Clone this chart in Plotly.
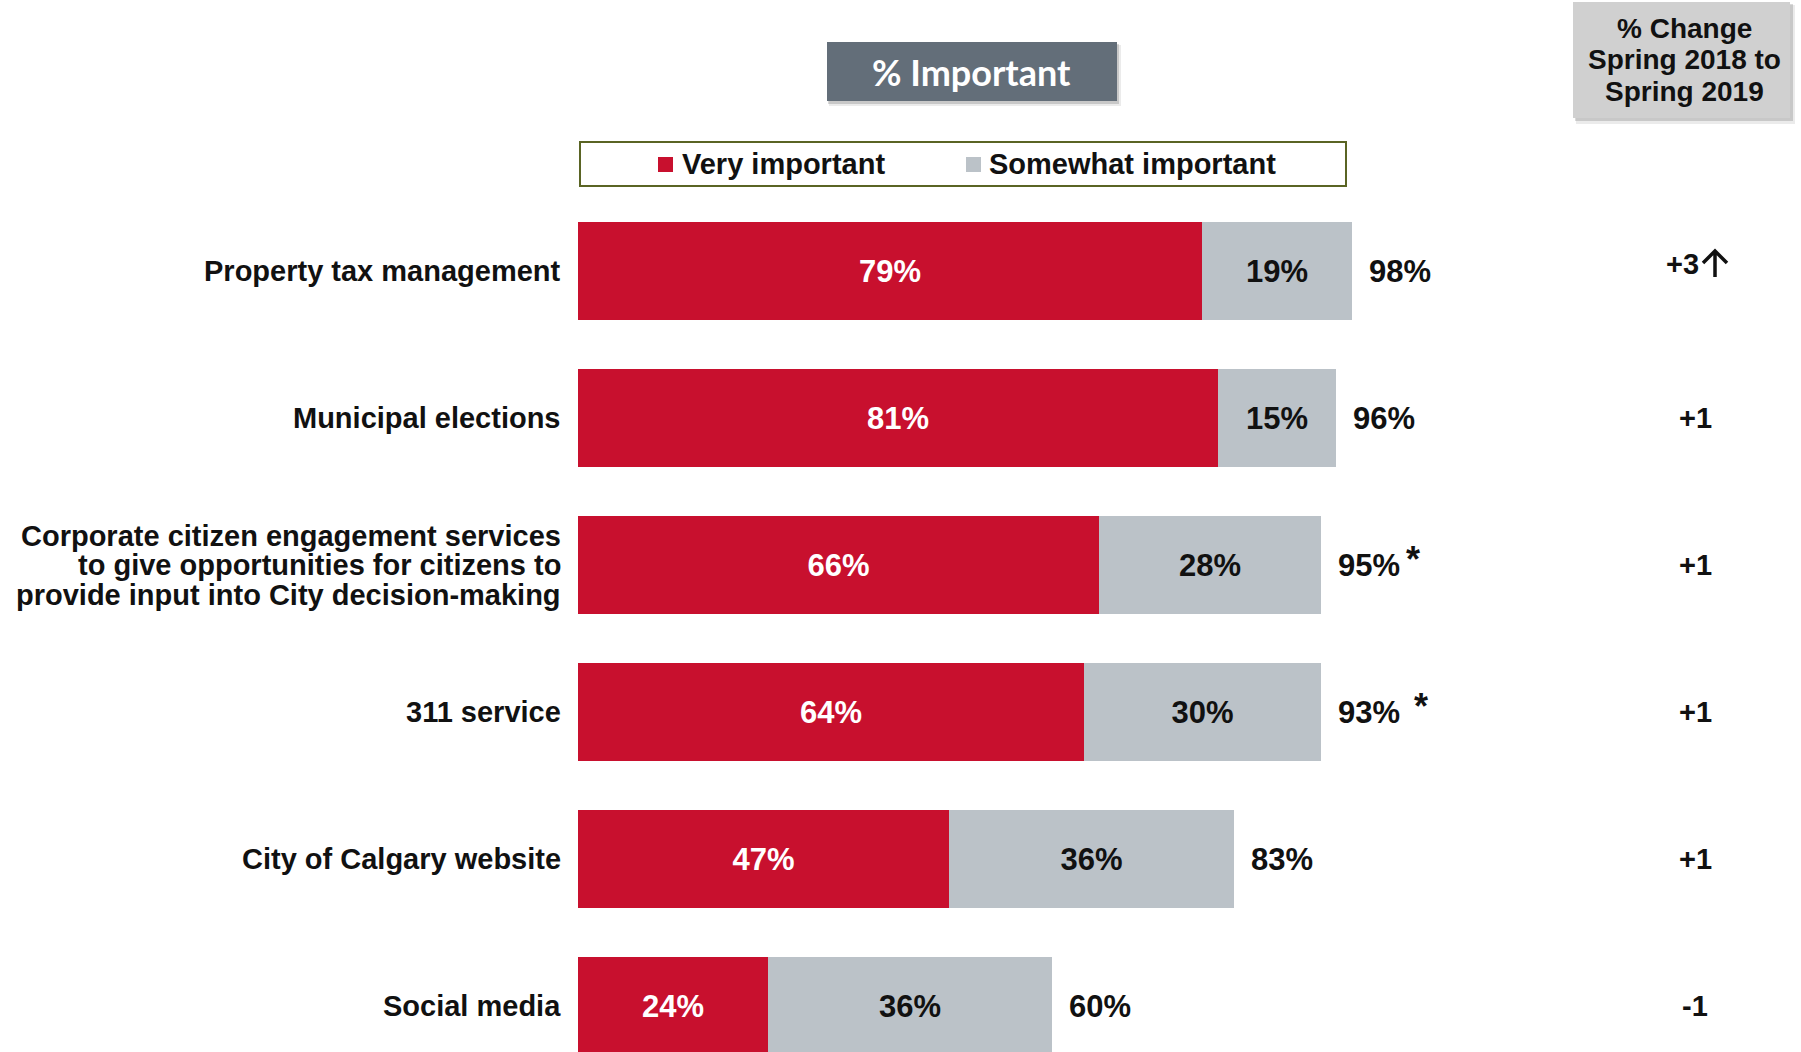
import plotly.graph_objects as go

categories = [
    "Property tax management",
    "Municipal elections",
    "Corporate citizen engagement services<br>to give opportunities for citizens to<br>provide input into City decision-making",
    "311 service",
    "City of Calgary website",
    "Social media",
]
very_important = [79, 81, 66, 64, 47, 24]
somewhat_important = [19, 15, 28, 30, 36, 36]
total_important = [98, 96, 95, 93, 83, 60]
significant = [False, False, True, True, False, False]
change = ["+3", "+1", "+1", "+1", "+1", "-1"]
change_up = [True, False, False, False, False, False]

W, H = 1801, 1052
FONT = "Liberation Sans, Arial, sans-serif"
RED = "#C8102E"
GREY = "#BBC2C8"
INK = "#111111"

def px(x):
    return x / W

def py(y):
    return 1 - y / H

rows = list(range(len(categories)))

fig = go.Figure()
fig.add_trace(go.Bar(
    y=rows, x=very_important, orientation="h", name="Very important",
    marker=dict(color=RED, line=dict(width=0)), width=0.667,
    text=[f"<b>{v}%</b>" for v in very_important],
    textposition="inside", insidetextanchor="middle", textangle=0,
    textfont=dict(family=FONT, size=31, color="white"),
    hoverinfo="skip",
))
fig.add_trace(go.Bar(
    y=rows, x=somewhat_important, orientation="h", name="Somewhat important",
    marker=dict(color=GREY, line=dict(width=0)), width=0.667,
    text=[f"<b>{v}%</b>" for v in somewhat_important],
    textposition="inside", insidetextanchor="middle", textangle=0,
    textfont=dict(family=FONT, size=31, color=INK),
    hoverinfo="skip",
))

x_scale = 7.9
x0_px = 578
y_step = 147
y0_px = 271

LINE = 29.5  # line spacing for multi-line labels (px)
ann = []
shapes = []
for i, cat in enumerate(categories):
    lines = cat.split("<br>")
    n = len(lines)
    for k, ln in enumerate(lines):
        ann.append(dict(x=0, y=i, xref="x", yref="y", text=f"<b>{ln}</b>",
                        xanchor="right", yanchor="middle", xshift=-15,
                        yshift=((n - 1) / 2 - k) * LINE,
                        showarrow=False, font=dict(family=FONT, size=29, color=INK)))
    end = very_important[i] + somewhat_important[i]
    ann.append(dict(x=end, y=i, xref="x", yref="y", text=f"<b>{total_important[i]}%</b>",
                    xanchor="left", yanchor="middle", xshift=15,
                    showarrow=False, font=dict(family=FONT, size=31, color=INK)))
    if significant[i]:
        ann.append(dict(x=end, y=i, xref="x", yref="y", text="<b>*</b>",
                        xanchor="left", yanchor="middle", xshift=15 + 68 + (0 if i == 2 else 8),
                        yshift=6, showarrow=False,
                        font=dict(family=FONT, size=36, color=INK)))
    if change_up[i]:
        ann.append(dict(x=px(1701), y=i, xref="paper", yref="y", text=f"<b>{change[i]}</b>",
                        xanchor="right", yanchor="middle", yshift=7,
                        showarrow=False, font=dict(family=FONT, size=29, color=INK)))
        # up-arrow glyph drawn as a stroked path next to the value
        cy = y0_px + y_step * i - 7
        ax, top, arm, bot = 1715, cy - 13, 12, cy + 13
        path = (f"M {px(ax - arm)},{py(top + arm)} L {px(ax)},{py(top)} L {px(ax + arm)},{py(top + arm)} "
                f"M {px(ax)},{py(top)} L {px(ax)},{py(bot)}")
        shapes.append(dict(type="path", xref="paper", yref="paper", path=path,
                           line=dict(color=INK, width=3.5), layer="above"))
    else:
        ann.append(dict(x=px(1695), y=i, xref="paper", yref="y", text=f"<b>{change[i]}</b>",
                        xanchor="center", yanchor="middle",
                        showarrow=False, font=dict(family=FONT, size=29, color=INK)))

# Title box text
ann.append(dict(x=px(972), y=py(72), xref="paper", yref="paper", text="<b>% Important</b>",
                xanchor="center", yanchor="middle", showarrow=False,
                font=dict(family="Lato, Open Sans, sans-serif", size=36, color="white")))
# Right header text
for k, ln in enumerate(["% Change", "Spring 2018 to", "Spring 2019"]):
    ann.append(dict(x=px(1684), y=py(28 + 31.6 * k), xref="paper", yref="paper",
                    text=f"<b>{ln}</b>", xanchor="center", yanchor="middle", showarrow=False,
                    font=dict(family=FONT, size=28, color=INK)))
# Legend text
ann.append(dict(x=px(680), y=py(164), xref="paper", yref="paper", text="<b>Very important</b>",
                xanchor="left", yanchor="middle", showarrow=False,
                font=dict(family=FONT, size=29, color=INK)))
ann.append(dict(x=px(987), y=py(164), xref="paper", yref="paper", text="<b>Somewhat important</b>",
                xanchor="left", yanchor="middle", showarrow=False,
                font=dict(family=FONT, size=29, color=INK)))

def rect(x0, y0, x1, y1, fill, line=None, lw=0):
    return dict(type="rect", xref="paper", yref="paper",
                x0=px(x0), x1=px(x1), y0=py(y1), y1=py(y0),
                fillcolor=fill, line=dict(color=line or fill, width=lw), layer="above")

shapes.append(rect(829, 45, 1121, 106, "rgba(0,0,0,0.08)"))
shapes.append(rect(828, 44, 1119, 104, "rgba(0,0,0,0.15)"))
shapes.append(rect(827, 42, 1117, 101, "#636E79"))
shapes.append(rect(1576, 5, 1795, 124, "rgba(0,0,0,0.08)"))
shapes.append(rect(1575, 4, 1793, 121, "rgba(0,0,0,0.15)"))
shapes.append(rect(1573, 2, 1790, 118, "#D0D0D0"))
shapes.append(rect(580, 142, 1346, 186, "rgba(0,0,0,0)", "#5A6424", 2))
shapes.append(rect(658, 157, 673, 172, RED))
shapes.append(rect(966, 157, 981, 172, GREY))

fig.update_layout(
    width=W, height=H, margin=dict(l=0, r=0, t=0, b=0),
    paper_bgcolor="white", plot_bgcolor="white",
    barmode="stack", showlegend=False, bargap=0,
    xaxis=dict(range=[-x0_px / x_scale, (W - x0_px) / x_scale], visible=False, fixedrange=True),
    yaxis=dict(range=[(H - y0_px) / y_step, -y0_px / y_step], visible=False, fixedrange=True),
    annotations=ann, shapes=shapes,
)

fig.write_html("out.html")
